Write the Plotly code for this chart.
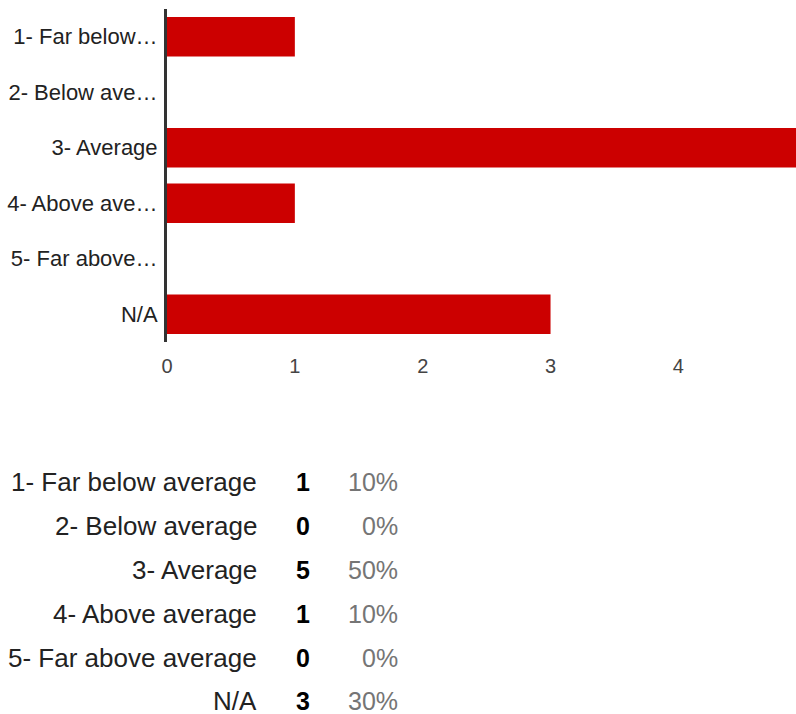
import plotly.graph_objects as go

categories = ["1- Far below average", "2- Below average", "3- Average",
              "4- Above average", "5- Far above average", "N/A"]
axis_labels = ["1- Far below…", "2- Below ave…", "3- Average",
               "4- Above ave…", "5- Far above…", "N/A"]
counts = [1, 0, 5, 1, 0, 3]
percents = ["10%", "0%", "50%", "10%", "0%", "30%"]
x_ticks = [0, 1, 2, 3, 4]

W, H = 796, 714
L, R, T, B = 167, 0, 9, 714 - 342
FONT = "Liberation Sans, Arial, sans-serif"

def px_x(p):
    return (p - L) / (W - L - R)

def px_y(p):
    return (H - B - p) / (H - T - B)

fig = go.Figure()
fig.add_trace(go.Bar(
    y=categories, x=counts, orientation="h",
    marker=dict(color="#cc0000", line=dict(width=0)),
    width=0.71, hoverinfo="skip",
))

fig.update_layout(
    width=W, height=H,
    margin=dict(l=L, r=R, t=T, b=B, pad=0),
    paper_bgcolor="white", plot_bgcolor="white",
    showlegend=False,
    font=dict(family=FONT),
    xaxis=dict(range=[0, 4.92], tickvals=x_ticks, showgrid=False, zeroline=False,
               showline=False, ticks="", tickfont=dict(size=20, color="#444"),
               ticklabelstandoff=10, fixedrange=True),
    yaxis=dict(categoryorder="array", categoryarray=categories, autorange="reversed",
               tickvals=categories, ticktext=axis_labels,
               showgrid=False, zeroline=False, showline=True, linecolor="#333",
               linewidth=3, ticks="", tickfont=dict(size=22, color="#222"),
               ticklabelstandoff=2, fixedrange=True),
)

row_y = [482, 526, 570, 614, 658, 701]
for i, cat in enumerate(categories):
    yy = px_y(row_y[i])
    fig.add_annotation(x=px_x(259), y=yy, xref="paper", yref="paper", text=cat,
                       showarrow=False, xanchor="right", yanchor="middle",
                       font=dict(size=26, color="#222", family=FONT))
    fig.add_annotation(x=px_x(303), y=yy, xref="paper", yref="paper",
                       text="<b>%d</b>" % counts[i],
                       showarrow=False, xanchor="center", yanchor="middle",
                       font=dict(size=25, color="#000", family=FONT))
    fig.add_annotation(x=px_x(400), y=yy, xref="paper", yref="paper", text=percents[i],
                       showarrow=False, xanchor="right", yanchor="middle",
                       font=dict(size=25, color="#757575", family=FONT))

fig.write_html(
    "out.html",
    config={"displayModeBar": False},
    post_script="document.body.style.margin='0';document.body.style.overflow='hidden';",
)
